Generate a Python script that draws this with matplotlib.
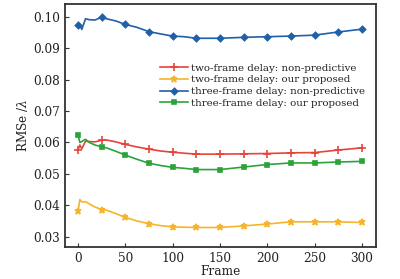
import matplotlib

matplotlib.use("Agg")
import matplotlib.pyplot as plt  # noqa: E402

# frames at which the curves were read (markers every 25 frames)
frames = [0, 2, 4, 8, 12, 18, 25, 30, 40, 50, 62, 75, 87, 100, 112, 125,
          150, 175, 200, 225, 250, 275, 300]

two_nonpred = [0.0576, 0.0592, 0.0580, 0.0604, 0.0603, 0.0602, 0.0607, 0.0608,
               0.0602, 0.0594, 0.0586, 0.0579, 0.0573, 0.0569, 0.0566, 0.0563,
               0.0563, 0.0564, 0.0565, 0.0567, 0.0568, 0.0576, 0.0583]
two_ours = [0.0381, 0.0419, 0.0411, 0.0412, 0.0405, 0.0395, 0.0387, 0.0385,
            0.0374, 0.0362, 0.0351, 0.0342, 0.0336, 0.0332, 0.0331, 0.0330,
            0.0330, 0.0335, 0.0341, 0.0348, 0.0348, 0.0348, 0.0346]
three_nonpred = [0.0973, 0.0975, 0.0959, 0.0993, 0.0990, 0.0989, 0.0998, 0.0993,
                 0.0986, 0.0975, 0.0966, 0.0952, 0.0945, 0.0938, 0.0936, 0.0931,
                 0.0931, 0.0934, 0.0936, 0.0938, 0.0941, 0.0951, 0.0960]
three_ours = [0.0625, 0.0600, 0.0603, 0.0610, 0.0600, 0.0592, 0.0586, 0.0583,
              0.0572, 0.0560, 0.0547, 0.0534, 0.0527, 0.0521, 0.0518, 0.0514,
              0.0514, 0.0522, 0.0530, 0.0535, 0.0535, 0.0538, 0.0540]

labels = ["two-frame delay: non-predictive", "two-frame delay: our proposed",
          "three-frame delay: non-predictive", "three-frame delay: our proposed"]

plt.rcParams["font.family"] = ["DejaVu Serif"]
plt.rcParams["mathtext.fontset"] = "dejavuserif"

marks = [i for i, f in enumerate(frames) if f % 25 == 0]

fig = plt.figure(figsize=(4.0, 2.79), dpi=100)
ax = fig.add_axes([0.1625, 0.1158, 0.7775, 0.87])

styles = [
    (two_nonpred, "#e8433b", "+", 6),
    (two_ours, "#f6b42a", "*", 5),
    (three_nonpred, "#2060a8", "D", 3.2),
    (three_ours, "#2ca33a", "s", 3.2),
]
for (vals, color, m, ms), lab in zip(styles, labels):
    ax.plot(frames, vals, color=color, lw=1.2, marker=m, ms=ms,
            markevery=marks, mew=1.2, label=lab)

ax.set_xlim(-13.7, 314.8)
ax.set_ylim(0.0269, 0.1040)
ax.set_xticks([0, 50, 100, 150, 200, 250, 300])
ax.set_yticks([0.03, 0.04, 0.05, 0.06, 0.07, 0.08, 0.09, 0.10])
ax.set_yticklabels(["0.03", "0.04", "0.05", "0.06", "0.07", "0.08", "0.09", "0.10"])
ax.tick_params(direction="in", length=3, labelsize=8.7, color="#333333",
               labelcolor="#222222")
for s in ax.spines.values():
    s.set_linewidth(1.3)
    s.set_color("#333333")

ax.set_xlabel("Frame", fontsize=8.7, labelpad=0, color="#222222")
ax.set_ylabel(r"RMSe /$\lambda$", fontsize=8.7, labelpad=2, color="#222222")

leg = ax.legend(loc="upper left", bbox_to_anchor=(0.305, 0.755), frameon=False,
                fontsize=7.4, handlelength=2.7, handletextpad=0.3,
                labelspacing=0.25, borderaxespad=0, borderpad=0)
for t in leg.get_texts():
    t.set_color("#222222")

fig.savefig("out.png", dpi=100)
